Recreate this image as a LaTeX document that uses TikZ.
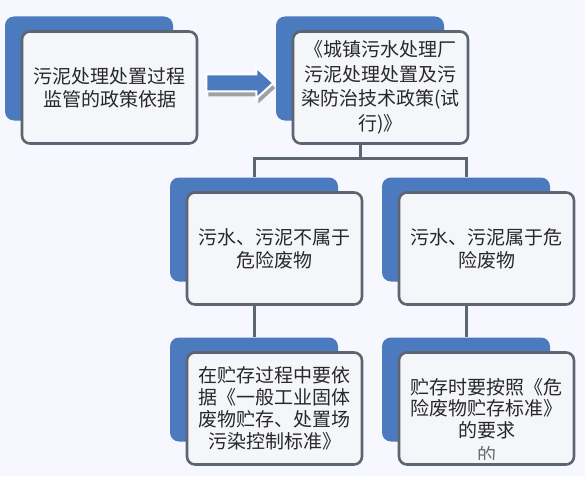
\documentclass[tikz,border=0pt]{standalone}
\usepackage{fontspec}
\newfontfamily\cjk{Noto Sans CJK SC}
\usetikzlibrary{backgrounds,shadows}

\definecolor{boxblue}{RGB}{76,122,190}
\definecolor{linegray}{RGB}{92,101,112}
\definecolor{boxfill}{RGB}{244,246,250}
\definecolor{textgray}{RGB}{40,40,40}

\begin{document}
\begin{tikzpicture}[x=1pt, y=-1pt,
    frontbox/.style={draw=linegray, line width=2.6pt, rounded corners=8pt, fill=boxfill,
      minimum width=175pt, minimum height=112pt, inner sep=0pt, align=center,
      text=textgray, font=\cjk\fontsize{19}{23}\selectfont},
    backbox/.style={fill=boxblue, rounded corners=9pt, minimum width=168pt,
      minimum height=104pt, inner sep=0pt},
    linkline/.style={draw=linegray, line width=3pt},
    blockarrow/.style={fill=boxblue, draw=white, line width=2pt, line join=miter,
      drop shadow={shadow xshift=2pt, shadow yshift=-5pt, fill=black!45, opacity=0.8}}]
  \useasboundingbox (0,0) rectangle (585,476);

  % front boxes
  \node[frontbox] (pol) at (109.5,87.5) {污泥处理处置过程\\监管的政策依据};
  \node[frontbox, font=\cjk\fontsize{19}{24.5}\selectfont] (tech) at (380.5,87.5)
    {《城镇污水处理厂\\污泥处理处置及污\\染防治技术政策(试\\行)》};
  \node[frontbox] (nonhaz) at (274.5,248.5) {污水、污泥不属于\\危险废物};
  \node[frontbox] (haz) at (486.5,248.5) {污水、污泥属于危\\险废物};
  \node[frontbox, font=\cjk\fontsize{19}{22}\selectfont] (store1) at (274.5,408.5)
    {在贮存过程中要依\\据《一般工业固体\\废物贮存、处置场\\污染控制标准》};
  \node[frontbox, font=\cjk\fontsize{19}{21.5}\selectfont] (store2) at (486.5,408.5)
    {贮存时要按照《危\\险废物贮存标准》\\的要求};

  % cut-off text at the bottom of the last box
  \begin{scope}
    \clip ([shift={(4,-20)}]store2.south west) rectangle ([shift={(-4,-6)}]store2.south east);
    \node[text=textgray!70, font=\cjk\fontsize{19}{23}\selectfont] (cut) at (486.5,455) {的};
  \end{scope}

  % blue boxes behind and connectors
  \begin{scope}[on background layer]
    \fill[white!97!blue] (0,0) rectangle (585,476);
    \node[backbox] (polbk) at ([shift={(-20.5,-19)}]pol.center) {};
    \node[backbox] (techbk) at ([shift={(-20.5,-19)}]tech.center) {};
    \node[backbox] (nonhazbk) at ([shift={(-20.5,-19)}]nonhaz.center) {};
    \node[backbox] (hazbk) at ([shift={(-20.5,-19)}]haz.center) {};
    \node[backbox] (store1bk) at ([shift={(-20.5,-19)}]store1.center) {};
    \node[backbox] (store2bk) at ([shift={(-20.5,-19)}]store2.center) {};

    \draw[linkline] (tech.south -| techbk.north) -- ++(0,14) coordinate (split);
    \draw[linkline] (nonhazbk.north) |- (split) -| (hazbk.north);
    \draw[linkline] (nonhaz.south -| store1bk.north) -- (store1bk.north);
    \draw[linkline] (haz.south -| store2bk.north) -- (store2bk.north);
  \end{scope}

  % arrow from pol to tech
  \coordinate (arrtail) at ([shift={(8,-4.5)}]pol.east);
  \filldraw[blockarrow] (arrtail) ++(0,-8.5) -- ++(50,0) -- ++(0,-7) -- ++(17,15.5)
    -- ++(-17,15.5) -- ++(0,-7) -- ++(-50,0) -- cycle;
\end{tikzpicture}
\end{document}
